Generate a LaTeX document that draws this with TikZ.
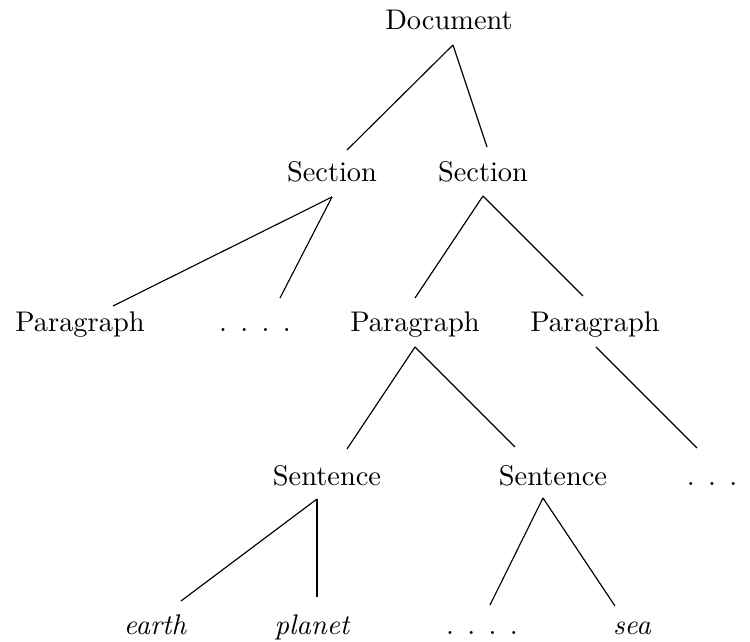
\documentclass[tikz,border=0pt]{standalone}
\usepackage{tikz}
\usetikzlibrary{calc}
\newcommand{\fourdots}{.\hspace{4.7pt}.\hspace{4.7pt}.\hspace{4.7pt}.}
\newcommand{\threedots}{.\hspace{4.7pt}.\hspace{4.7pt}.}

\begin{document}
\begin{tikzpicture}[x=0.352pt, y=-0.352pt,
  word/.style={anchor=base, inner sep=0pt},
  leaf/.style={word, font=\itshape}]
\useasboundingbox (0,0) rectangle (750,642);

\node[word] (doc) at (449,30) {Document};

\node[word] (secA) at (332,182) {Section};
\node[word] (secB) at (483,182) {Section};

\node[word] (parA) at (80,332) {Paragraph};
\node[word] (dotsA) at (255,332) {\fourdots};
\node[word] (parB) at (415,332) {Paragraph};
\node[word] (parC) at (595,332) {Paragraph};

\node[word] (senA) at (327,486) {Sentence};
\node[word] (senB) at (553,486) {Sentence};
\node[word] (dotsB) at (712,486) {\threedots};

\node[leaf] (earth) at (155,635) {earth};
\node[leaf] (planet) at (312,635) {planet};
\node[word] (dotsC) at (482,635) {\fourdots};
\node[leaf] (sea) at (632,635) {sea};

\draw ($(doc.base)+(4,15)$) -- ($(secA.base)+(15,-32)$);
\draw ($(doc.base)+(4,15)$) -- ($(secB.base)+(4,-35)$);

\draw ($(secA.base)+(0,15)$) -- ($(parA.base)+(33,-26)$);
\draw ($(secA.base)+(0,15)$) -- ($(dotsA.base)+(25,-34)$);
\draw ($(secB.base)+(0,14)$) -- ($(parB.base)+(0,-34)$);
\draw ($(secB.base)+(0,14)$) -- ($(parC.base)+(-12,-36)$);

\draw ($(parB.base)+(0,15)$) -- ($(senA.base)+(20,-37)$);
\draw ($(parB.base)+(0,15)$) -- ($(senB.base)+(-38,-39)$);
\draw ($(parC.base)+(1,15)$) -- ($(dotsB.base)+(-15,-38)$);

\draw ($(senA.base)+(-10,13)$) -- ($(earth.base)+(26,-34)$);
\draw ($(senA.base)+(-10,13)$) -- ($(planet.base)+(5,-38)$);
\draw ($(senB.base)+(-10,12)$) -- ($(dotsC.base)+(8,-30)$);
\draw ($(senB.base)+(-10,12)$) -- ($(sea.base)+(-17,-29)$);

\end{tikzpicture}
\end{document}
